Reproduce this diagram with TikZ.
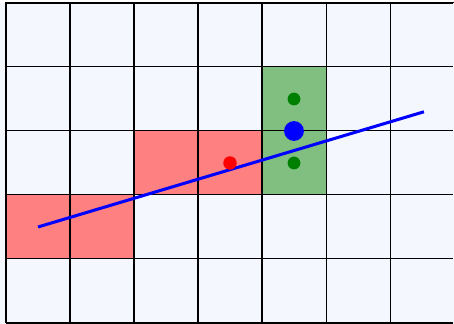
\documentclass[tikz,border=0pt]{standalone}
\definecolor{cellbg}{RGB}{245,247,255}
\definecolor{redcell}{RGB}{255,128,128}
\definecolor{greencell}{RGB}{128,191,128}
\definecolor{dotgreen}{RGB}{0,128,0}
\tikzset{
  gridline/.style={black, line width=0.45pt},
  dot/.style={circle, inner sep=0pt, minimum size=#1},
}
\begin{document}
\begin{tikzpicture}[x=1cm,y=1cm]
\useasboundingbox (-6/64,-1/64) rectangle (7,5+3/64);
\fill[cellbg] (-6/64,-1/64) rectangle (7,5+3/64);
\fill[white] (-6/64,5) rectangle (7,5+3/64);
% colored cells
\fill[redcell] (0,1) rectangle (2,2);
\fill[redcell] (2,2) rectangle (4,3);
\fill[greencell] (4,2) rectangle (5,4);
% grid
\draw[gridline] (0,0) grid (6.99,5);
\draw[gridline] (0,0) -- (0,5) -- (7,5);
% line
\coordinate (start) at (0.5,1.5);
\coordinate (end) at (6.53,3.3);
\draw[blue, line width=1.35pt] (start) -- (end);
% dots
\node[dot=0.21cm, fill=red] (r) at (3.5,2.5) {};
\node[dot=0.31cm, fill=blue] (b) at (4.5,3) {};
\node[dot=0.2cm, fill=dotgreen] (g1) at (4.5,3.5) {};
\node[dot=0.2cm, fill=dotgreen] (g2) at (4.5,2.5) {};
\end{tikzpicture}
\end{document}
